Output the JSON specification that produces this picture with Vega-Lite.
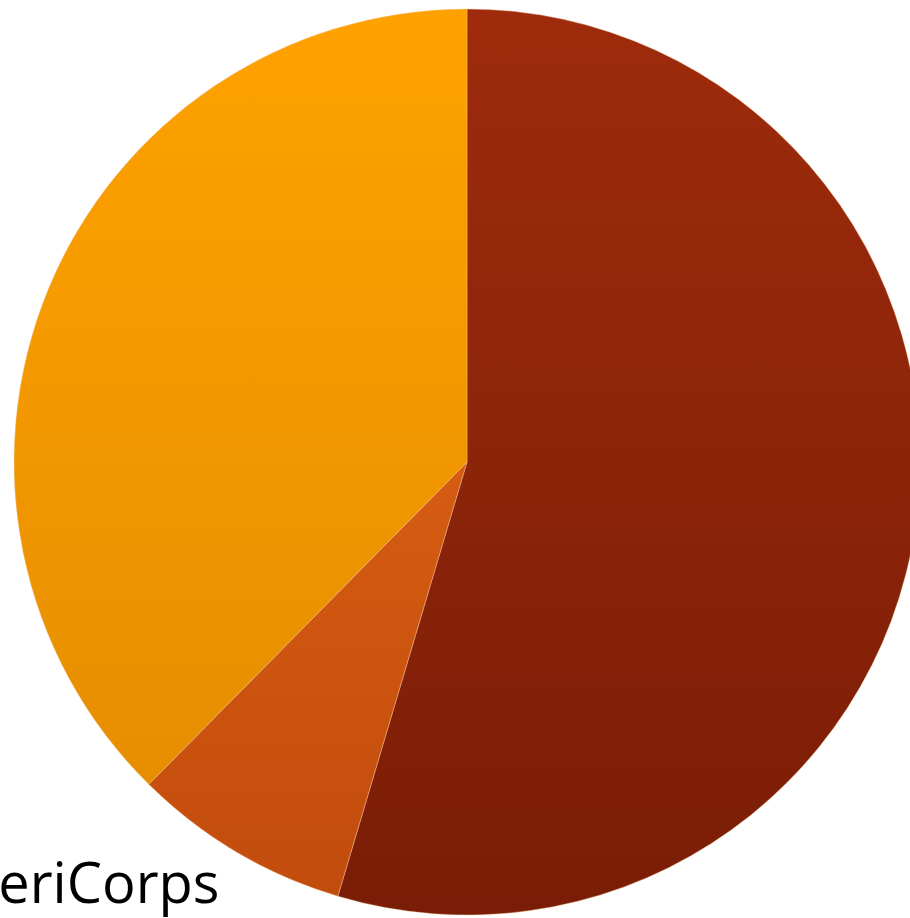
{
  "$schema": "https://vega.github.io/schema/vega-lite/v6.json",
  "autosize": {"type": "none"},
  "width": 886,
  "height": 912,
  "padding": {"left": 24, "top": 6, "right": 0, "bottom": 0},
  "background": "white",
  "title": {
    "text": "AmeriCorps",
    "orient": "bottom",
    "anchor": "start",
    "frame": "group",
    "baseline": "alphabetic",
    "offset": -15,
    "dx": -113,
    "font": "Open Sans",
    "fontSize": 56,
    "fontWeight": "normal",
    "color": "#000000"
  },
  "data": {
    "values": [
      {"segment": "Segment A", "rank": 1, "share": 54.6},
      {"segment": "Segment B", "rank": 2, "share": 7.8},
      {"segment": "Segment C", "rank": 3, "share": 37.6}
    ]
  },
  "transform": [
    {"stack": "share", "groupby": [], "sort": [{"field": "rank", "order": "ascending"}], "as": ["s0", "s1"]}
  ],
  "encoding": {
    "theta": {"field": "s0", "type": "quantitative", "scale": {"domain": [0, 100]}},
    "theta2": {"field": "s1"}
  },
  "layer": [
    {
      "transform": [{"filter": "datum.segment === 'Segment A'"}],
      "mark": {"type": "arc", "outerRadius": 453, "stroke": "#f3c9a0", "strokeWidth": 0.8, "strokeOpacity": 0.5,
        "fill": {"gradient": "linear", "x1": 0, "y1": 0, "x2": 0, "y2": 1, "stops": [{"offset": 0, "color": "#9E2B0C"}, {"offset": 1, "color": "#7A1D06"}]}}
    },
    {
      "transform": [{"filter": "datum.segment === 'Segment B'"}],
      "mark": {"type": "arc", "outerRadius": 453, "stroke": "#f3c9a0", "strokeWidth": 0.8, "strokeOpacity": 0.5,
        "fill": {"gradient": "linear", "x1": 0, "y1": 0, "x2": 0, "y2": 1, "stops": [{"offset": 0, "color": "#D65C12"}, {"offset": 1, "color": "#C24C0D"}]}}
    },
    {
      "transform": [{"filter": "datum.segment === 'Segment C'"}],
      "mark": {"type": "arc", "outerRadius": 453, "stroke": "#f3c9a0", "strokeWidth": 0.8, "strokeOpacity": 0.5,
        "fill": {"gradient": "linear", "x1": 0, "y1": 0, "x2": 0, "y2": 1, "stops": [{"offset": 0, "color": "#FFA200"}, {"offset": 1, "color": "#E68E00"}]}}
    }
  ],
  "config": {"view": {"stroke": null}}
}
